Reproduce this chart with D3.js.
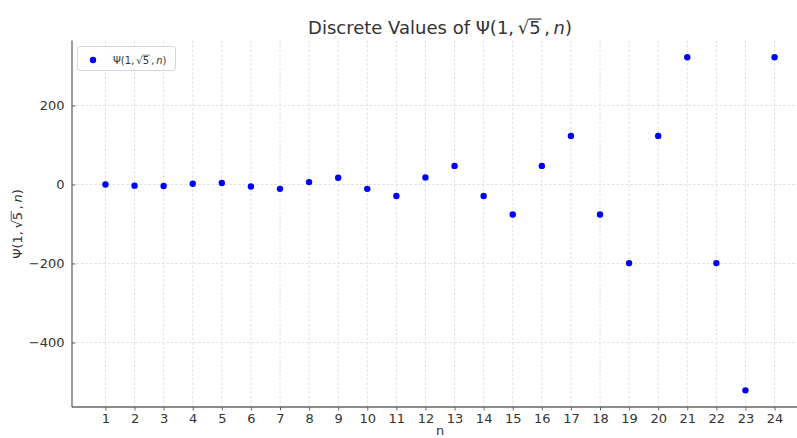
<!DOCTYPE html>
<html>
<head>
<meta charset="utf-8">
<script src="https://cdn.jsdelivr.net/npm/d3@7"></script>
<style>
  html, body { margin: 0; padding: 0; background: #fff; }
  svg { display: block; font-family: "DejaVu Sans", sans-serif; }
</style>
</head>
<body>
<svg id="chart" width="797" height="438"></svg>
<script>
// values
const nValues = d3.range(1, 25);
const psiValues = [0, -3, -4, 2, 4, -5, -11, 6, 17, -11, -29, 18,
                   47, -29, -76, 47, 123, -76, -199, 123, 322, -199, -521, 322];
const yTicks = [-400, -200, 0, 200];

const W = 797, H = 438;
const m = { left: 72, top: 40.6, bottom: 407 };
const svg = d3.select('#chart');
const ink = '#333';

// matplotlib-like 5% margins; right end falls past the picture edge
const x = d3.scaleLinear().domain([1 - 1.15, 24 + 1.15]).range([m.left, 808]);
const y = d3.scaleLinear().domain([-563.2, 364.2]).range([m.bottom, m.top]);

// grid
const grid = svg.append('g').attr('stroke', '#d8d8d8').attr('stroke-width', 0.8)
  .attr('stroke-dasharray', '2.5,2');
grid.selectAll('line.v').data(nValues).join('line')
  .attr('x1', d => x(d)).attr('x2', d => x(d)).attr('y1', m.top).attr('y2', m.bottom);
grid.selectAll('line.h').data(yTicks).join('line')
  .attr('x1', m.left).attr('x2', W).attr('y1', d => y(d)).attr('y2', d => y(d));

// axes
const xAxis = svg.append('g').attr('transform', `translate(0,${m.bottom})`)
  .call(d3.axisBottom(x).tickValues(nValues).tickSize(3.5).tickPadding(3.5));
const yAxis = svg.append('g').attr('transform', `translate(${m.left},0)`)
  .call(d3.axisLeft(y).tickValues(yTicks).tickSize(-3.5).tickPadding(7.5)
    .tickFormat(d => d < 0 ? '\u2212' + Math.abs(d) : d));
[xAxis, yAxis].forEach(g => {
  g.select('.domain').attr('stroke', '#666').attr('stroke-width', 1.3);
  g.selectAll('.tick line').attr('stroke', '#666').attr('stroke-width', 1);
  g.selectAll('.tick text').attr('fill', ink).attr('font-size', 13)
    .attr('font-family', '"DejaVu Sans", sans-serif');
});
// keep left spine over the full height
yAxis.select('.domain').attr('d', `M0,${m.top}V${m.bottom}`);
xAxis.select('.domain').attr('d', `M${m.left},0H${W}`);

// points
svg.append('g').selectAll('circle').data(nValues).join('circle')
  .attr('cx', d => x(d)).attr('cy', (d, i) => y(psiValues[i]))
  .attr('r', 3.2).attr('fill', '#0000ff');

// Ψ(1, √5, n) with an overline bar over the 5
function psiLabel(sel, size, prefix) {
  const t = sel.append('text').attr('fill', ink).attr('font-size', size);
  if (prefix) t.append('tspan').text(prefix);
  t.append('tspan').text('\u03a8(1,\u2009\u221a');
  t.append('tspan').text('5');
  t.append('tspan').text('\u2009,\u2009');
  t.append('tspan').attr('font-style', 'italic').text('n');
  t.append('tspan').text(')');
  return t;
}
function addBar(t, size) {
  const str = t.text();
  const idx = str.indexOf('\u221a');
  const node = t.node();
  const a = node.getStartPositionOfChar(idx + 1);
  const b = node.getEndPositionOfChar(idx + 1);
  const root = node.parentNode;
  const topY = a.y - size * 0.83;
  d3.select(root).append('line').attr('x1', a.x - 0.5).attr('x2', b.x + 0.8)
    .attr('y1', topY).attr('y2', topY).attr('stroke', ink).attr('stroke-width', size / 16);
}

// title
const titleG = svg.append('g');
const title = psiLabel(titleG, 18, 'Discrete Values of ')
  .attr('x', 440).attr('y', 34).attr('text-anchor', 'middle');
addBar(title, 18);

// x label
svg.append('text').attr('x', 440).attr('y', 435).attr('text-anchor', 'middle')
  .attr('fill', ink).attr('font-size', 13).text('n');

// y label
const yl = svg.append('g').attr('transform', 'translate(22,224) rotate(-90)');
const ylt = psiLabel(yl, 13).attr('x', 0).attr('y', 0).attr('text-anchor', 'middle');
addBar(ylt, 13);

// legend
const lg = svg.append('g');
lg.append('rect').attr('x', 77.5).attr('y', 46.5).attr('width', 98).attr('height', 24)
  .attr('rx', 2.5).attr('fill', '#fff').attr('fill-opacity', 0.85)
  .attr('stroke', '#d6d6d6').attr('stroke-width', 1);
lg.append('circle').attr('cx', 93).attr('cy', 60).attr('r', 3.2).attr('fill', '#0000ff');
const lt = psiLabel(lg, 10).attr('x', 113).attr('y', 63.5);
addBar(lt, 10);
</script>
</body>
</html>
